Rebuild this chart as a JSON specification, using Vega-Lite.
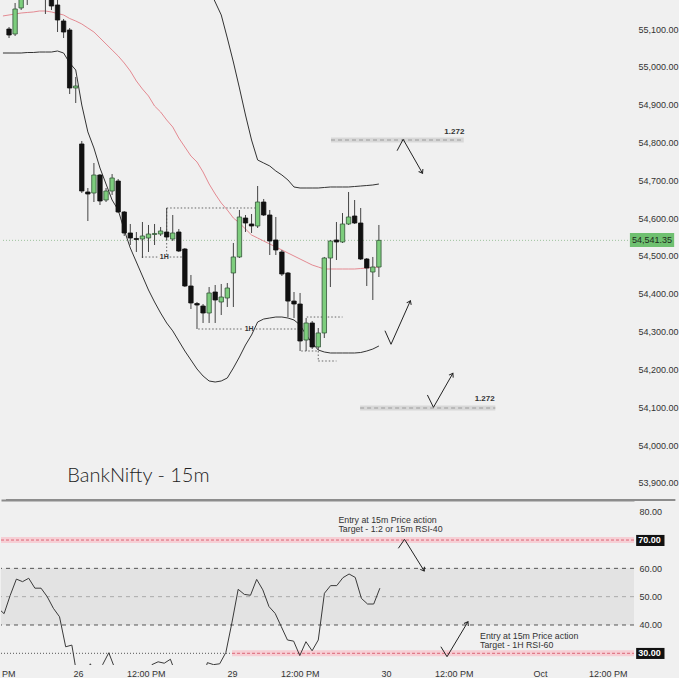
{
 "$schema": "https://vega.github.io/schema/vega-lite/v6.json",
 "background": "#f0f0f0",
 "padding": 0,
 "spacing": 1,
 "config": {"view": {"stroke": null}, "axis": {"labelFont": "Liberation Sans, Arial, sans-serif", "labelFontSize": 9, "labelColor": "#333"}},
 "datasets": {
  "candles": [
   {"i":-12,"o":55100.0,"h":55105.3,"l":55076.2,"c":55084.2},
   {"i":-11,"o":55086.8,"h":55168.8,"l":55081.5,"c":55152.9},
   {"i":-10,"o":55155.6,"h":55216.4,"l":55150.3,"c":55203.1},
   {"i":-9,"o":55189.9,"h":55242.8,"l":55163.5,"c":55229.6},
   {"i":-8,"o":55256.0,"h":55277.1,"l":55189.9,"c":55216.4},
   {"i":-7,"o":55208.4,"h":55282.4,"l":55192.6,"c":55256.0},
   {"i":-6,"o":55250.7,"h":55269.2,"l":55139.7,"c":55197.8},
   {"i":-5,"o":55197.8,"h":55208.4,"l":55150.3,"c":55160.8},
   {"i":-4,"o":55163.5,"h":55176.7,"l":55092.1,"c":55123.8},
   {"i":-3,"o":55121.2,"h":55126.5,"l":55076.2,"c":55092.1},
   {"i":-2,"o":55097.4,"h":55102.7,"l":54928.2,"c":54944.1},
   {"i":-1,"o":54944.1,"h":54973.2,"l":54904.4,"c":54949.4},
   {"i":0,"o":54796.1,"h":54804.0,"l":54666.5,"c":54671.8},
   {"i":1,"o":54669.2,"h":54679.7,"l":54592.5,"c":54663.9},
   {"i":2,"o":54666.5,"h":54745.8,"l":54642.7,"c":54714.1},
   {"i":3,"o":54714.1,"h":54716.7,"l":54634.8,"c":54645.4},
   {"i":4,"o":54648.0,"h":54679.7,"l":54642.7,"c":54671.8},
   {"i":5,"o":54671.8,"h":54716.7,"l":54661.2,"c":54706.2},
   {"i":6,"o":54698.2,"h":54703.5,"l":54613.7,"c":54616.3},
   {"i":7,"o":54616.3,"h":54618.9,"l":54552.9,"c":54560.8},
   {"i":8,"o":54560.8,"h":54584.6,"l":54529.1,"c":54547.6},
   {"i":9,"o":54546.3,"h":54563.4,"l":54510.6,"c":54543.6},
   {"i":10,"o":54544.9,"h":54589.9,"l":54494.7,"c":54552.9},
   {"i":11,"o":54547.6,"h":54582.0,"l":54510.6,"c":54558.1},
   {"i":12,"o":54556.8,"h":54584.6,"l":54529.1,"c":54559.5},
   {"i":13,"o":54558.1,"h":54576.6,"l":54552.9,"c":54566.1},
   {"i":14,"o":54563.4,"h":54626.9,"l":54542.3,"c":54550.2},
   {"i":15,"o":54544.9,"h":54608.4,"l":54539.6,"c":54560.8},
   {"i":16,"o":54563.4,"h":54571.4,"l":54510.6,"c":54513.2},
   {"i":17,"o":54518.5,"h":54521.1,"l":54418.0,"c":54420.7},
   {"i":18,"o":54420.7,"h":54449.8,"l":54359.9,"c":54375.8},
   {"i":19,"o":54374.4,"h":54378.4,"l":54307.0,"c":54370.4},
   {"i":20,"o":54367.8,"h":54373.1,"l":54322.9,"c":54349.3},
   {"i":21,"o":54349.3,"h":54418.0,"l":54322.9,"c":54402.2},
   {"i":22,"o":54404.8,"h":54423.3,"l":54322.9,"c":54383.7},
   {"i":23,"o":54378.4,"h":54426.0,"l":54344.0,"c":54391.6},
   {"i":24,"o":54389.0,"h":54428.6,"l":54365.2,"c":54415.4},
   {"i":25,"o":54455.1,"h":54534.4,"l":54365.2,"c":54497.4},
   {"i":26,"o":54497.4,"h":54621.6,"l":54494.7,"c":54603.1},
   {"i":27,"o":54600.4,"h":54608.4,"l":54563.4,"c":54587.2},
   {"i":28,"o":54584.6,"h":54611.0,"l":54560.8,"c":54579.3},
   {"i":29,"o":54579.3,"h":54685.0,"l":54574.0,"c":54642.7},
   {"i":30,"o":54642.7,"h":54650.7,"l":54605.7,"c":54608.4},
   {"i":31,"o":54608.4,"h":54621.6,"l":54502.6,"c":54539.6},
   {"i":32,"o":54542.3,"h":54603.1,"l":54502.6,"c":54515.9},
   {"i":33,"o":54510.6,"h":54515.9,"l":54447.1,"c":54452.4},
   {"i":34,"o":54455.1,"h":54457.7,"l":54338.7,"c":54380.9},
   {"i":35,"o":54380.9,"h":54404.8,"l":54336.1,"c":54373.1},
   {"i":36,"o":54373.1,"h":54402.2,"l":54248.8,"c":54275.3},
   {"i":37,"o":54277.9,"h":54336.1,"l":54248.8,"c":54322.9},
   {"i":38,"o":54322.9,"h":54328.2,"l":54254.2,"c":54259.5},
   {"i":39,"o":54259.5,"h":54309.7,"l":54251.5,"c":54296.5},
   {"i":40,"o":54296.5,"h":54497.4,"l":54283.2,"c":54494.7},
   {"i":41,"o":54494.7,"h":54542.3,"l":54418.0,"c":54539.6},
   {"i":42,"o":54542.3,"h":54589.9,"l":54489.4,"c":54537.0},
   {"i":43,"o":54537.0,"h":54613.6,"l":54534.4,"c":54584.6},
   {"i":44,"o":54584.6,"h":54669.2,"l":54582.0,"c":54603.1},
   {"i":45,"o":54605.7,"h":54648.0,"l":54584.6,"c":54587.2},
   {"i":46,"o":54587.2,"h":54626.9,"l":54489.4,"c":54492.1},
   {"i":47,"o":54492.1,"h":54494.7,"l":54420.7,"c":54468.3},
   {"i":48,"o":54457.7,"h":54497.4,"l":54383.7,"c":54470.9},
   {"i":49,"o":54470.9,"h":54582.0,"l":54444.5,"c":54541.35}
  ],
  "bb": [
   {"i":-13,"up":55235.0,"lo":55036.6,"mid":55134.5},
   {"i":-12,"up":55237.5,"lo":55036.6,"mid":55137.1},
   {"i":-11,"up":55242.8,"lo":55036.6,"mid":55139.7},
   {"i":-10,"up":55248.1,"lo":55036.6,"mid":55142.3},
   {"i":-9,"up":55249.4,"lo":55037.9,"mid":55143.7},
   {"i":-8,"up":55252.0,"lo":55037.9,"mid":55145.0},
   {"i":-7,"up":55256.0,"lo":55039.2,"mid":55147.6},
   {"i":-6,"up":55256.0,"lo":55039.2,"mid":55147.6},
   {"i":-5,"up":55250.7,"lo":55039.2,"mid":55145.0},
   {"i":-4,"up":55240.1,"lo":55041.9,"mid":55141.0},
   {"i":-3,"up":55237.5,"lo":55036.6,"mid":55137.1},
   {"i":-2,"up":55245.4,"lo":55010.2,"mid":55127.8},
   {"i":-1,"up":55250.7,"lo":54991.7,"mid":55121.2},
   {"i":0,"up":55327.4,"lo":54899.1,"mid":55113.3},
   {"i":1,"up":55377.6,"lo":54828.0,"mid":55102.7},
   {"i":2,"up":55398.7,"lo":54785.5,"mid":55092.1},
   {"i":3,"up":55419.9,"lo":54732.6,"mid":55076.3},
   {"i":4,"up":55430.5,"lo":54690.3,"mid":55060.4},
   {"i":5,"up":55441.0,"lo":54648.0,"mid":55044.5},
   {"i":6,"up":55435.8,"lo":54621.6,"mid":55028.7},
   {"i":7,"up":55451.6,"lo":54568.7,"mid":55010.2},
   {"i":8,"up":55456.9,"lo":54521.1,"mid":54989.0},
   {"i":9,"up":55441.0,"lo":54484.1,"mid":54962.6},
   {"i":10,"up":55435.8,"lo":54447.1,"mid":54941.4},
   {"i":11,"up":55435.8,"lo":54410.1,"mid":54922.9},
   {"i":12,"up":55414.6,"lo":54378.4,"mid":54896.5},
   {"i":13,"up":55412.0,"lo":54349.3,"mid":54880.6},
   {"i":14,"up":55396.1,"lo":54322.9,"mid":54859.5},
   {"i":15,"up":55380.2,"lo":54301.9,"mid":54841.0},
   {"i":16,"up":55348.5,"lo":54275.3,"mid":54811.9},
   {"i":17,"up":55327.4,"lo":54248.8,"mid":54788.1},
   {"i":18,"up":55303.6,"lo":54225.1,"mid":54764.3},
   {"i":19,"up":55274.5,"lo":54201.3,"mid":54748.5},
   {"i":20,"up":55240.1,"lo":54182.8,"mid":54722.1},
   {"i":21,"up":55205.8,"lo":54169.6,"mid":54690.3},
   {"i":22,"up":55171.4,"lo":54166.9,"mid":54663.9},
   {"i":23,"up":55137.1,"lo":54169.6,"mid":54640.1},
   {"i":24,"up":55076.3,"lo":54177.5,"mid":54621.6},
   {"i":25,"up":55012.8,"lo":54204.0,"mid":54600.4},
   {"i":26,"up":54944.1,"lo":54233.0,"mid":54587.2},
   {"i":27,"up":54872.7,"lo":54264.7,"mid":54571.4},
   {"i":28,"up":54806.6,"lo":54291.2,"mid":54555.5},
   {"i":29,"up":54753.8,"lo":54325.5,"mid":54547.6},
   {"i":30,"up":54745.8,"lo":54333.4,"mid":54539.6},
   {"i":31,"up":54737.9,"lo":54336.1,"mid":54531.6},
   {"i":32,"up":54724.7,"lo":54338.7,"mid":54523.8},
   {"i":33,"up":54714.1,"lo":54338.7,"mid":54515.9},
   {"i":34,"up":54700.9,"lo":54336.1,"mid":54507.9},
   {"i":35,"up":54682.4,"lo":54330.8,"mid":54500.0},
   {"i":36,"up":54679.7,"lo":54317.6,"mid":54492.1},
   {"i":37,"up":54679.7,"lo":54291.2,"mid":54484.1},
   {"i":38,"up":54679.7,"lo":54270.0,"mid":54476.2},
   {"i":39,"up":54679.7,"lo":54251.5,"mid":54470.9},
   {"i":40,"up":54681.1,"lo":54246.2,"mid":54465.6},
   {"i":41,"up":54682.4,"lo":54243.6,"mid":54465.6},
   {"i":42,"up":54682.4,"lo":54243.6,"mid":54465.6},
   {"i":43,"up":54682.4,"lo":54243.6,"mid":54465.6},
   {"i":44,"up":54682.4,"lo":54243.6,"mid":54465.6},
   {"i":45,"up":54683.7,"lo":54243.6,"mid":54465.6},
   {"i":46,"up":54685.0,"lo":54244.9,"mid":54466.9},
   {"i":47,"up":54686.3,"lo":54248.8,"mid":54468.3},
   {"i":48,"up":54687.7,"lo":54254.1,"mid":54469.6},
   {"i":49,"up":54690.3,"lo":54262.1,"mid":54470.9}
  ],
  "rsi": [
   {"i":-13,"r":46.0},{"i":-12,"r":44.0},{"i":-11,"r":50.5},{"i":-10,"r":56.2},{"i":-9,"r":55.3},{"i":-8,"r":56.5},
   {"i":-7,"r":53.0},{"i":-6,"r":53.0},{"i":-5,"r":50.0},{"i":-4,"r":45.9},{"i":-3,"r":42.9},{"i":-2,"r":32.3},
   {"i":-1,"r":32.9},{"i":0,"r":20.0},{"i":1,"r":21.5},{"i":2,"r":26.3},{"i":3,"r":22.0},{"i":4,"r":26.0},
   {"i":5,"r":30.2},{"i":6,"r":24.5},{"i":7,"r":20.0},{"i":8,"r":18.0},{"i":9,"r":19.0},{"i":10,"r":21.0},
   {"i":11,"r":23.5},{"i":12,"r":26.0},{"i":13,"r":27.0},{"i":14,"r":26.5},{"i":15,"r":27.9},{"i":16,"r":22.0},
   {"i":17,"r":16.0},{"i":18,"r":14.0},{"i":19,"r":14.5},{"i":20,"r":19.0},{"i":21,"r":26.7},{"i":22,"r":26.0},
   {"i":23,"r":26.3},{"i":24,"r":30.3},{"i":25,"r":41.0},{"i":26,"r":52.6},{"i":27,"r":50.8},{"i":28,"r":50.5},
   {"i":29,"r":56.1},{"i":30,"r":52.4},{"i":31,"r":46.5},{"i":32,"r":44.1},{"i":33,"r":39.4},{"i":34,"r":34.7},
   {"i":35,"r":34.3},{"i":36,"r":29.2},{"i":37,"r":34.1},{"i":38,"r":30.9},{"i":39,"r":34.7},{"i":40,"r":51.2},
   {"i":41,"r":53.9},{"i":42,"r":53.9},{"i":43,"r":56.7},{"i":44,"r":58.0},{"i":45,"r":56.8},{"i":46,"r":49.4},
   {"i":47,"r":47.4},{"i":48,"r":47.4},{"i":49,"r":53.0}
  ],
  "fib": [{"a":41.1,"b":63.0,"p":54806.6},{"a":45.9,"b":68.2,"p":54098.2}],
  "fiblab": [{"i":63.1,"p":54829,"t":"1.272"},{"i":68.1,"p":54121,"t":"1.272"}],
  "dots": [
   {"a":14,"b":29,"p":54626.9,"q":54626.9},
   {"a":14,"b":14,"p":54626.9,"q":54497.3},
   {"a":9.9,"b":12.8,"p":54497.3,"q":54497.3},
   {"a":14.5,"b":16.5,"p":54497.3,"q":54497.3},
   {"a":19.2,"b":26.6,"p":54307.0,"q":54307.0},
   {"a":28.7,"b":35.7,"p":54307.0,"q":54307.0},
   {"a":37.1,"b":43.0,"p":54338.7,"q":54338.7},
   {"a":36.2,"b":39.0,"p":54248.9,"q":54248.9},
   {"a":39.0,"b":42.0,"p":54222.4,"q":54222.4},
   {"a":39.0,"b":39.0,"p":54248.9,"q":54222.4}
  ],
  "hlab": [{"i":13.6,"p":54497.3,"t":"1H"},{"i":27.6,"p":54307.0,"t":"1H"}],
  "arrows": [
   {"a":52.0,"b":53.0,"p":54778.3,"q":54808.5},{"a":53.0,"b":56.2,"p":54808.5,"q":54718.6},
   {"a":50.0,"b":51.0,"p":54302.5,"q":54266.6},{"a":51.0,"b":54.2,"p":54266.6,"q":54381.8},
   {"a":57.0,"b":58.0,"p":54132.6,"q":54100.0},{"a":58.0,"b":61.2,"p":54100.0,"q":54189.9}
  ],
  "heads": [{"i":56.2,"p":54718.6,"ang":149.5},{"i":54.2,"p":54381.8,"ang":24.6},{"i":61.2,"p":54189.9,"ang":30.1}],
  "last": [{"p":54541.35,"t":"54,541.35","a":90.4,"b":97.7,"lo":54523.8,"hi":54560.8,"ti":90.75}],
  "sep": [{"a":-12.5,"b":97.9,"p":53855.0}],
  "title": [{"i":-2.4,"p":53918.4,"t":"BankNifty - 15m"}],
  "rband": [{"lo":40,"hi":60}],
  "rlines": [{"r":60,"k":"dark"},{"r":40,"k":"dark"},{"r":50,"k":"light"}],
  "pink": [{"a":-12.5,"b":90.25,"lo":68.95,"hi":71.05,"r":70},{"a":25,"b":90.25,"lo":28.95,"hi":31.05,"r":30}],
  "dot30": [{"a":-12.5,"b":25,"r":30}],
  "rarrows": [
   {"a":52.0,"b":53.0,"p":67.08,"q":70.25},{"a":53.0,"b":56.2,"p":70.25,"q":59.06},
   {"a":58.9,"b":59.9,"p":32.33,"q":28.8},{"a":59.9,"b":63.3,"p":28.8,"q":41.16}
  ],
  "rheads": [{"i":56.2,"r":59.06,"ang":147.8},{"i":63.3,"r":41.16,"ang":30.6}],
  "rtext": [
   {"i":42.27,"r":76.9,"t":"Entry at 15m Price action"},
   {"i":42.27,"r":73.9,"t":"Target - 1:2 or 15m RSI-40"},
   {"i":65.26,"r":35.95,"t":"Entry at 15m Price action"},
   {"i":65.26,"r":32.95,"t":"Target - 1H RSI-60"}
  ],
  "rbox": [{"a":90.6,"b":95.2,"lo":67.9,"hi":71.8,"r":70,"t":"70.00","ti":90.95},{"a":90.6,"b":95.2,"lo":28.0,"hi":31.9,"r":30,"t":"30.00","ti":90.95}]
 },
 "vconcat": [
  {
   "width": 633, "height": 500,
   "layer": [
    {"data": {"name": "fib"}, "mark": {"type": "rule", "color": "#d8d8d8", "strokeWidth": 5},
     "encoding": {
      "x": {"field": "a", "type": "quantitative", "scale": {"domain": [-12.5, 90.25], "nice": false, "zero": false}, "axis": {"orient": "bottom", "labels": false, "ticks": false, "grid": false, "domain": true, "domainColor": "#8c8c8c", "domainWidth": 2, "title": null}},
      "x2": {"field": "b"},
      "y": {"field": "p", "type": "quantitative", "scale": {"domain": [53855.0, 55176.7], "nice": false, "zero": false}, "axis": {"orient": "right", "values": [53900,54000,54100,54200,54300,54400,54500,54600,54700,54800,54900,55000,55100], "format": ",.2f", "ticks": false, "domain": false, "grid": false, "title": null, "labelPadding": 4}}
     }},
    {"data": {"name": "fib"}, "mark": {"type": "rule", "color": "#9a9a9a", "strokeWidth": 1.2, "strokeDash": [4, 3]},
     "encoding": {
      "x": {"field": "a", "type": "quantitative", "scale": {"domain": [-12.5, 90.25], "nice": false, "zero": false}, "axis": {"orient": "bottom", "labels": false, "ticks": false, "grid": false, "domain": true, "domainColor": "#8c8c8c", "domainWidth": 2, "title": null}},
      "x2": {"field": "b"},
      "y": {"field": "p", "type": "quantitative", "scale": {"domain": [53855.0, 55176.7], "nice": false, "zero": false}, "axis": {"orient": "right", "values": [53900,54000,54100,54200,54300,54400,54500,54600,54700,54800,54900,55000,55100], "format": ",.2f", "ticks": false, "domain": false, "grid": false, "title": null, "labelPadding": 4}}
     }},
    {"data": {"name": "sep"}, "mark": {"type": "rule", "color": "#8c8c8c", "strokeWidth": 2},
     "encoding": {
      "x": {"field": "a", "type": "quantitative", "scale": {"domain": [-12.5, 90.25], "nice": false, "zero": false}, "axis": {"orient": "bottom", "labels": false, "ticks": false, "grid": false, "domain": true, "domainColor": "#8c8c8c", "domainWidth": 2, "title": null}},
      "x2": {"field": "b"},
      "y": {"field": "p", "type": "quantitative", "scale": {"domain": [53855.0, 55176.7], "nice": false, "zero": false}, "axis": {"orient": "right", "values": [53900,54000,54100,54200,54300,54400,54500,54600,54700,54800,54900,55000,55100], "format": ",.2f", "ticks": false, "domain": false, "grid": false, "title": null, "labelPadding": 4}}
     }},
    {"data": {"name": "fiblab"}, "mark": {"type": "text", "align": "right", "baseline": "middle", "fontSize": 8, "fontWeight": "bold", "font": "Liberation Sans, Arial, sans-serif", "color": "#333"},
     "encoding": {
      "x": {"field": "i", "type": "quantitative", "scale": {"domain": [-12.5, 90.25], "nice": false, "zero": false}, "axis": {"orient": "bottom", "labels": false, "ticks": false, "grid": false, "domain": true, "domainColor": "#8c8c8c", "domainWidth": 2, "title": null}},
      "y": {"field": "p", "type": "quantitative", "scale": {"domain": [53855.0, 55176.7], "nice": false, "zero": false}, "axis": {"orient": "right", "values": [53900,54000,54100,54200,54300,54400,54500,54600,54700,54800,54900,55000,55100], "format": ",.2f", "ticks": false, "domain": false, "grid": false, "title": null, "labelPadding": 4}},
      "text": {"field": "t"}
     }},
    {"data": {"name": "last"}, "mark": {"type": "rule", "color": "#9cc29c", "strokeWidth": 1, "strokeDash": [1, 2]},
     "encoding": {
      "y": {"field": "p", "type": "quantitative", "scale": {"domain": [53855.0, 55176.7], "nice": false, "zero": false}, "axis": {"orient": "right", "values": [53900,54000,54100,54200,54300,54400,54500,54600,54700,54800,54900,55000,55100], "format": ",.2f", "ticks": false, "domain": false, "grid": false, "title": null, "labelPadding": 4}}
     }},
    {"data": {"name": "dots"}, "mark": {"type": "rule", "color": "#666", "strokeWidth": 1, "strokeDash": [1.5, 2]},
     "encoding": {
      "x": {"field": "a", "type": "quantitative", "scale": {"domain": [-12.5, 90.25], "nice": false, "zero": false}, "axis": {"orient": "bottom", "labels": false, "ticks": false, "grid": false, "domain": true, "domainColor": "#8c8c8c", "domainWidth": 2, "title": null}},
      "x2": {"field": "b"},
      "y": {"field": "p", "type": "quantitative", "scale": {"domain": [53855.0, 55176.7], "nice": false, "zero": false}, "axis": {"orient": "right", "values": [53900,54000,54100,54200,54300,54400,54500,54600,54700,54800,54900,55000,55100], "format": ",.2f", "ticks": false, "domain": false, "grid": false, "title": null, "labelPadding": 4}},
      "y2": {"field": "q"}
     }},
    {"data": {"name": "hlab"}, "mark": {"type": "text", "align": "center", "baseline": "middle", "fontSize": 7, "fontWeight": "bold", "font": "Liberation Sans, Arial, sans-serif", "color": "#333"},
     "encoding": {
      "x": {"field": "i", "type": "quantitative", "scale": {"domain": [-12.5, 90.25], "nice": false, "zero": false}, "axis": {"orient": "bottom", "labels": false, "ticks": false, "grid": false, "domain": true, "domainColor": "#8c8c8c", "domainWidth": 2, "title": null}},
      "y": {"field": "p", "type": "quantitative", "scale": {"domain": [53855.0, 55176.7], "nice": false, "zero": false}, "axis": {"orient": "right", "values": [53900,54000,54100,54200,54300,54400,54500,54600,54700,54800,54900,55000,55100], "format": ",.2f", "ticks": false, "domain": false, "grid": false, "title": null, "labelPadding": 4}},
      "text": {"field": "t"}
     }},
    {"data": {"name": "bb"}, "mark": {"type": "line", "clip": true, "color": "#333", "strokeWidth": 1},
     "encoding": {
      "x": {"field": "i", "type": "quantitative", "scale": {"domain": [-12.5, 90.25], "nice": false, "zero": false}, "axis": {"orient": "bottom", "labels": false, "ticks": false, "grid": false, "domain": true, "domainColor": "#8c8c8c", "domainWidth": 2, "title": null}},
      "y": {"field": "up", "type": "quantitative", "scale": {"domain": [53855.0, 55176.7], "nice": false, "zero": false}, "axis": {"orient": "right", "values": [53900,54000,54100,54200,54300,54400,54500,54600,54700,54800,54900,55000,55100], "format": ",.2f", "ticks": false, "domain": false, "grid": false, "title": null, "labelPadding": 4}}
     }},
    {"data": {"name": "bb"}, "mark": {"type": "line", "clip": true, "color": "#333", "strokeWidth": 1},
     "encoding": {
      "x": {"field": "i", "type": "quantitative", "scale": {"domain": [-12.5, 90.25], "nice": false, "zero": false}, "axis": {"orient": "bottom", "labels": false, "ticks": false, "grid": false, "domain": true, "domainColor": "#8c8c8c", "domainWidth": 2, "title": null}},
      "y": {"field": "lo", "type": "quantitative", "scale": {"domain": [53855.0, 55176.7], "nice": false, "zero": false}, "axis": {"orient": "right", "values": [53900,54000,54100,54200,54300,54400,54500,54600,54700,54800,54900,55000,55100], "format": ",.2f", "ticks": false, "domain": false, "grid": false, "title": null, "labelPadding": 4}}
     }},
    {"data": {"name": "bb"}, "mark": {"type": "line", "clip": true, "color": "#e48a92", "strokeWidth": 1},
     "encoding": {
      "x": {"field": "i", "type": "quantitative", "scale": {"domain": [-12.5, 90.25], "nice": false, "zero": false}, "axis": {"orient": "bottom", "labels": false, "ticks": false, "grid": false, "domain": true, "domainColor": "#8c8c8c", "domainWidth": 2, "title": null}},
      "y": {"field": "mid", "type": "quantitative", "scale": {"domain": [53855.0, 55176.7], "nice": false, "zero": false}, "axis": {"orient": "right", "values": [53900,54000,54100,54200,54300,54400,54500,54600,54700,54800,54900,55000,55100], "format": ",.2f", "ticks": false, "domain": false, "grid": false, "title": null, "labelPadding": 4}}
     }},
    {"data": {"name": "candles"}, "mark": {"type": "rule", "clip": true, "color": "#444", "strokeWidth": 1},
     "encoding": {
      "x": {"field": "i", "type": "quantitative", "scale": {"domain": [-12.5, 90.25], "nice": false, "zero": false}, "axis": {"orient": "bottom", "labels": false, "ticks": false, "grid": false, "domain": true, "domainColor": "#8c8c8c", "domainWidth": 2, "title": null}},
      "y": {"field": "l", "type": "quantitative", "scale": {"domain": [53855.0, 55176.7], "nice": false, "zero": false}, "axis": {"orient": "right", "values": [53900,54000,54100,54200,54300,54400,54500,54600,54700,54800,54900,55000,55100], "format": ",.2f", "ticks": false, "domain": false, "grid": false, "title": null, "labelPadding": 4}},
      "y2": {"field": "h"}
     }},
    {"data": {"name": "candles"}, "mark": {"type": "bar", "clip": true, "size": 4.4, "strokeWidth": 0.8},
     "encoding": {
      "x": {"field": "i", "type": "quantitative", "scale": {"domain": [-12.5, 90.25], "nice": false, "zero": false}, "axis": {"orient": "bottom", "labels": false, "ticks": false, "grid": false, "domain": true, "domainColor": "#8c8c8c", "domainWidth": 2, "title": null}},
      "y": {"field": "o", "type": "quantitative", "scale": {"domain": [53855.0, 55176.7], "nice": false, "zero": false}, "axis": {"orient": "right", "values": [53900,54000,54100,54200,54300,54400,54500,54600,54700,54800,54900,55000,55100], "format": ",.2f", "ticks": false, "domain": false, "grid": false, "title": null, "labelPadding": 4}},
      "y2": {"field": "c"},
      "fill": {"condition": {"test": "datum.c >= datum.o", "value": "#7dcd7d"}, "value": "#111111"},
      "stroke": {"condition": {"test": "datum.c >= datum.o", "value": "#35553a"}, "value": "#111111"}
     }},
    {"data": {"name": "arrows"}, "mark": {"type": "rule", "color": "#222", "strokeWidth": 1},
     "encoding": {
      "x": {"field": "a", "type": "quantitative", "scale": {"domain": [-12.5, 90.25], "nice": false, "zero": false}, "axis": {"orient": "bottom", "labels": false, "ticks": false, "grid": false, "domain": true, "domainColor": "#8c8c8c", "domainWidth": 2, "title": null}},
      "x2": {"field": "b"},
      "y": {"field": "p", "type": "quantitative", "scale": {"domain": [53855.0, 55176.7], "nice": false, "zero": false}, "axis": {"orient": "right", "values": [53900,54000,54100,54200,54300,54400,54500,54600,54700,54800,54900,55000,55100], "format": ",.2f", "ticks": false, "domain": false, "grid": false, "title": null, "labelPadding": 4}},
      "y2": {"field": "q"}
     }},
    {"data": {"name": "heads"}, "mark": {"type": "point", "shape": "M-0.7,1L0,0L0.7,1", "filled": false, "color": "#222", "strokeWidth": 1, "size": 50, "opacity": 1},
     "encoding": {
      "x": {"field": "i", "type": "quantitative", "scale": {"domain": [-12.5, 90.25], "nice": false, "zero": false}, "axis": {"orient": "bottom", "labels": false, "ticks": false, "grid": false, "domain": true, "domainColor": "#8c8c8c", "domainWidth": 2, "title": null}},
      "y": {"field": "p", "type": "quantitative", "scale": {"domain": [53855.0, 55176.7], "nice": false, "zero": false}, "axis": {"orient": "right", "values": [53900,54000,54100,54200,54300,54400,54500,54600,54700,54800,54900,55000,55100], "format": ",.2f", "ticks": false, "domain": false, "grid": false, "title": null, "labelPadding": 4}},
      "angle": {"field": "ang", "type": "quantitative", "scale": null}
     }},
    {"data": {"name": "title"}, "mark": {"type": "text", "align": "left", "baseline": "middle", "font": "Lato", "fontWeight": 300, "fontSize": 20, "color": "#222"},
     "encoding": {
      "x": {"field": "i", "type": "quantitative", "scale": {"domain": [-12.5, 90.25], "nice": false, "zero": false}, "axis": {"orient": "bottom", "labels": false, "ticks": false, "grid": false, "domain": true, "domainColor": "#8c8c8c", "domainWidth": 2, "title": null}},
      "y": {"field": "p", "type": "quantitative", "scale": {"domain": [53855.0, 55176.7], "nice": false, "zero": false}, "axis": {"orient": "right", "values": [53900,54000,54100,54200,54300,54400,54500,54600,54700,54800,54900,55000,55100], "format": ",.2f", "ticks": false, "domain": false, "grid": false, "title": null, "labelPadding": 4}},
      "text": {"field": "t"}
     }},
    {"data": {"name": "last"}, "mark": {"type": "rect", "color": "#6fc070"},
     "encoding": {
      "x": {"field": "a", "type": "quantitative", "scale": {"domain": [-12.5, 90.25], "nice": false, "zero": false}, "axis": {"orient": "bottom", "labels": false, "ticks": false, "grid": false, "domain": true, "domainColor": "#8c8c8c", "domainWidth": 2, "title": null}},
      "x2": {"field": "b"},
      "y": {"field": "lo", "type": "quantitative", "scale": {"domain": [53855.0, 55176.7], "nice": false, "zero": false}, "axis": {"orient": "right", "values": [53900,54000,54100,54200,54300,54400,54500,54600,54700,54800,54900,55000,55100], "format": ",.2f", "ticks": false, "domain": false, "grid": false, "title": null, "labelPadding": 4}},
      "y2": {"field": "hi"}
     }},
    {"data": {"name": "last"}, "mark": {"type": "text", "align": "left", "baseline": "middle", "font": "Liberation Sans, Arial, sans-serif", "fontSize": 9, "color": "#1d2b1d"},
     "encoding": {
      "x": {"field": "ti", "type": "quantitative", "scale": {"domain": [-12.5, 90.25], "nice": false, "zero": false}, "axis": {"orient": "bottom", "labels": false, "ticks": false, "grid": false, "domain": true, "domainColor": "#8c8c8c", "domainWidth": 2, "title": null}},
      "y": {"field": "p", "type": "quantitative", "scale": {"domain": [53855.0, 55176.7], "nice": false, "zero": false}, "axis": {"orient": "right", "values": [53900,54000,54100,54200,54300,54400,54500,54600,54700,54800,54900,55000,55100], "format": ",.2f", "ticks": false, "domain": false, "grid": false, "title": null, "labelPadding": 4}},
      "text": {"field": "t"}
     }}
   ]
  },
  {
   "width": 633, "height": 163,
   "layer": [
    {"data": {"name": "rband"}, "mark": {"type": "rect", "color": "#e3e3e3"},
     "encoding": {
      "y": {"field": "lo", "type": "quantitative", "scale": {"domain": [25.87, 83.43], "nice": false, "zero": false}, "axis": {"orient": "right", "values": [40, 50, 60, 80], "format": ".2f", "ticks": false, "domain": false, "grid": false, "title": null, "labelPadding": 5}},
      "y2": {"field": "hi"}
     }},
    {"data": {"name": "rlines"}, "mark": {"type": "rule", "strokeWidth": 1, "strokeDash": [4, 4]},
     "encoding": {
      "y": {"field": "r", "type": "quantitative", "scale": {"domain": [25.87, 83.43], "nice": false, "zero": false}, "axis": {"orient": "right", "values": [40, 50, 60, 80], "format": ".2f", "ticks": false, "domain": false, "grid": false, "title": null, "labelPadding": 5}},
      "color": {"condition": {"test": "datum.k == 'dark'", "value": "#555555"}, "value": "#aaaaaa"}
     }},
    {"data": {"name": "pink"}, "mark": {"type": "rect", "color": "#f6cfd5"},
     "encoding": {
      "x": {"field": "a", "type": "quantitative", "scale": {"domain": [-12.5, 90.25], "nice": false, "zero": false}, "axis": {"orient": "bottom", "values": [-12.4, 0, 11, 25, 36, 50, 61, 75, 86], "labelExpr": "datum.value < -12 ? 'PM' : datum.value == 0 ? '26' : datum.value == 25 ? '29' : datum.value == 50 ? '30' : datum.value == 75 ? 'Oct' : '12:00 PM'", "labelAlign": {"condition": {"test": "datum.value < -12", "value": "left"}, "value": "center"}, "ticks": false, "domain": false, "grid": false, "title": null, "labelPadding": 4, "labelOverlap": false, "labelFlush": false}},
      "x2": {"field": "b"},
      "y": {"field": "lo", "type": "quantitative", "scale": {"domain": [25.87, 83.43], "nice": false, "zero": false}, "axis": {"orient": "right", "values": [40, 50, 60, 80], "format": ".2f", "ticks": false, "domain": false, "grid": false, "title": null, "labelPadding": 5}},
      "y2": {"field": "hi"}
     }},
    {"data": {"name": "pink"}, "mark": {"type": "rule", "color": "#dd6677", "strokeWidth": 1, "strokeDash": [3, 2]},
     "encoding": {
      "x": {"field": "a", "type": "quantitative", "scale": {"domain": [-12.5, 90.25], "nice": false, "zero": false}, "axis": {"orient": "bottom", "values": [-12.4, 0, 11, 25, 36, 50, 61, 75, 86], "labelExpr": "datum.value < -12 ? 'PM' : datum.value == 0 ? '26' : datum.value == 25 ? '29' : datum.value == 50 ? '30' : datum.value == 75 ? 'Oct' : '12:00 PM'", "labelAlign": {"condition": {"test": "datum.value < -12", "value": "left"}, "value": "center"}, "ticks": false, "domain": false, "grid": false, "title": null, "labelPadding": 4, "labelOverlap": false, "labelFlush": false}},
      "x2": {"field": "b"},
      "y": {"field": "r", "type": "quantitative", "scale": {"domain": [25.87, 83.43], "nice": false, "zero": false}, "axis": {"orient": "right", "values": [40, 50, 60, 80], "format": ".2f", "ticks": false, "domain": false, "grid": false, "title": null, "labelPadding": 5}}
     }},
    {"data": {"name": "dot30"}, "mark": {"type": "rule", "color": "#555", "strokeWidth": 1, "strokeDash": [1, 2]},
     "encoding": {
      "x": {"field": "a", "type": "quantitative", "scale": {"domain": [-12.5, 90.25], "nice": false, "zero": false}, "axis": {"orient": "bottom", "values": [-12.4, 0, 11, 25, 36, 50, 61, 75, 86], "labelExpr": "datum.value < -12 ? 'PM' : datum.value == 0 ? '26' : datum.value == 25 ? '29' : datum.value == 50 ? '30' : datum.value == 75 ? 'Oct' : '12:00 PM'", "labelAlign": {"condition": {"test": "datum.value < -12", "value": "left"}, "value": "center"}, "ticks": false, "domain": false, "grid": false, "title": null, "labelPadding": 4, "labelOverlap": false, "labelFlush": false}},
      "x2": {"field": "b"},
      "y": {"field": "r", "type": "quantitative", "scale": {"domain": [25.87, 83.43], "nice": false, "zero": false}, "axis": {"orient": "right", "values": [40, 50, 60, 80], "format": ".2f", "ticks": false, "domain": false, "grid": false, "title": null, "labelPadding": 5}}
     }},
    {"data": {"name": "rsi"}, "mark": {"type": "line", "clip": true, "color": "#3a3a3a", "strokeWidth": 1},
     "encoding": {
      "x": {"field": "i", "type": "quantitative", "scale": {"domain": [-12.5, 90.25], "nice": false, "zero": false}, "axis": {"orient": "bottom", "values": [-12.4, 0, 11, 25, 36, 50, 61, 75, 86], "labelExpr": "datum.value < -12 ? 'PM' : datum.value == 0 ? '26' : datum.value == 25 ? '29' : datum.value == 50 ? '30' : datum.value == 75 ? 'Oct' : '12:00 PM'", "labelAlign": {"condition": {"test": "datum.value < -12", "value": "left"}, "value": "center"}, "ticks": false, "domain": false, "grid": false, "title": null, "labelPadding": 4, "labelOverlap": false, "labelFlush": false}},
      "y": {"field": "r", "type": "quantitative", "scale": {"domain": [25.87, 83.43], "nice": false, "zero": false}, "axis": {"orient": "right", "values": [40, 50, 60, 80], "format": ".2f", "ticks": false, "domain": false, "grid": false, "title": null, "labelPadding": 5}}
     }},
    {"data": {"name": "rarrows"}, "mark": {"type": "rule", "color": "#222", "strokeWidth": 1},
     "encoding": {
      "x": {"field": "a", "type": "quantitative", "scale": {"domain": [-12.5, 90.25], "nice": false, "zero": false}, "axis": {"orient": "bottom", "values": [-12.4, 0, 11, 25, 36, 50, 61, 75, 86], "labelExpr": "datum.value < -12 ? 'PM' : datum.value == 0 ? '26' : datum.value == 25 ? '29' : datum.value == 50 ? '30' : datum.value == 75 ? 'Oct' : '12:00 PM'", "labelAlign": {"condition": {"test": "datum.value < -12", "value": "left"}, "value": "center"}, "ticks": false, "domain": false, "grid": false, "title": null, "labelPadding": 4, "labelOverlap": false, "labelFlush": false}},
      "x2": {"field": "b"},
      "y": {"field": "p", "type": "quantitative", "scale": {"domain": [25.87, 83.43], "nice": false, "zero": false}, "axis": {"orient": "right", "values": [40, 50, 60, 80], "format": ".2f", "ticks": false, "domain": false, "grid": false, "title": null, "labelPadding": 5}},
      "y2": {"field": "q"}
     }},
    {"data": {"name": "rheads"}, "mark": {"type": "point", "shape": "M-0.7,1L0,0L0.7,1", "filled": false, "color": "#222", "strokeWidth": 1, "size": 50, "opacity": 1},
     "encoding": {
      "x": {"field": "i", "type": "quantitative", "scale": {"domain": [-12.5, 90.25], "nice": false, "zero": false}, "axis": {"orient": "bottom", "values": [-12.4, 0, 11, 25, 36, 50, 61, 75, 86], "labelExpr": "datum.value < -12 ? 'PM' : datum.value == 0 ? '26' : datum.value == 25 ? '29' : datum.value == 50 ? '30' : datum.value == 75 ? 'Oct' : '12:00 PM'", "labelAlign": {"condition": {"test": "datum.value < -12", "value": "left"}, "value": "center"}, "ticks": false, "domain": false, "grid": false, "title": null, "labelPadding": 4, "labelOverlap": false, "labelFlush": false}},
      "y": {"field": "r", "type": "quantitative", "scale": {"domain": [25.87, 83.43], "nice": false, "zero": false}, "axis": {"orient": "right", "values": [40, 50, 60, 80], "format": ".2f", "ticks": false, "domain": false, "grid": false, "title": null, "labelPadding": 5}},
      "angle": {"field": "ang", "type": "quantitative", "scale": null}
     }},
    {"data": {"name": "rtext"}, "mark": {"type": "text", "align": "left", "baseline": "middle", "font": "Liberation Sans, Arial, sans-serif", "fontSize": 8.8, "color": "#333"},
     "encoding": {
      "x": {"field": "i", "type": "quantitative", "scale": {"domain": [-12.5, 90.25], "nice": false, "zero": false}, "axis": {"orient": "bottom", "values": [-12.4, 0, 11, 25, 36, 50, 61, 75, 86], "labelExpr": "datum.value < -12 ? 'PM' : datum.value == 0 ? '26' : datum.value == 25 ? '29' : datum.value == 50 ? '30' : datum.value == 75 ? 'Oct' : '12:00 PM'", "labelAlign": {"condition": {"test": "datum.value < -12", "value": "left"}, "value": "center"}, "ticks": false, "domain": false, "grid": false, "title": null, "labelPadding": 4, "labelOverlap": false, "labelFlush": false}},
      "y": {"field": "r", "type": "quantitative", "scale": {"domain": [25.87, 83.43], "nice": false, "zero": false}, "axis": {"orient": "right", "values": [40, 50, 60, 80], "format": ".2f", "ticks": false, "domain": false, "grid": false, "title": null, "labelPadding": 5}},
      "text": {"field": "t"}
     }},
    {"data": {"name": "rbox"}, "mark": {"type": "rect", "color": "#111"},
     "encoding": {
      "x": {"field": "a", "type": "quantitative", "scale": {"domain": [-12.5, 90.25], "nice": false, "zero": false}, "axis": {"orient": "bottom", "values": [-12.4, 0, 11, 25, 36, 50, 61, 75, 86], "labelExpr": "datum.value < -12 ? 'PM' : datum.value == 0 ? '26' : datum.value == 25 ? '29' : datum.value == 50 ? '30' : datum.value == 75 ? 'Oct' : '12:00 PM'", "labelAlign": {"condition": {"test": "datum.value < -12", "value": "left"}, "value": "center"}, "ticks": false, "domain": false, "grid": false, "title": null, "labelPadding": 4, "labelOverlap": false, "labelFlush": false}},
      "x2": {"field": "b"},
      "y": {"field": "lo", "type": "quantitative", "scale": {"domain": [25.87, 83.43], "nice": false, "zero": false}, "axis": {"orient": "right", "values": [40, 50, 60, 80], "format": ".2f", "ticks": false, "domain": false, "grid": false, "title": null, "labelPadding": 5}},
      "y2": {"field": "hi"}
     }},
    {"data": {"name": "rbox"}, "mark": {"type": "text", "align": "left", "baseline": "middle", "font": "Liberation Sans, Arial, sans-serif", "fontSize": 9, "fontWeight": "bold", "color": "#ffffff"},
     "encoding": {
      "x": {"field": "ti", "type": "quantitative", "scale": {"domain": [-12.5, 90.25], "nice": false, "zero": false}, "axis": {"orient": "bottom", "values": [-12.4, 0, 11, 25, 36, 50, 61, 75, 86], "labelExpr": "datum.value < -12 ? 'PM' : datum.value == 0 ? '26' : datum.value == 25 ? '29' : datum.value == 50 ? '30' : datum.value == 75 ? 'Oct' : '12:00 PM'", "labelAlign": {"condition": {"test": "datum.value < -12", "value": "left"}, "value": "center"}, "ticks": false, "domain": false, "grid": false, "title": null, "labelPadding": 4, "labelOverlap": false, "labelFlush": false}},
      "y": {"field": "r", "type": "quantitative", "scale": {"domain": [25.87, 83.43], "nice": false, "zero": false}, "axis": {"orient": "right", "values": [40, 50, 60, 80], "format": ".2f", "ticks": false, "domain": false, "grid": false, "title": null, "labelPadding": 5}},
      "text": {"field": "t"}
     }}
   ]
  }
 ]
}
